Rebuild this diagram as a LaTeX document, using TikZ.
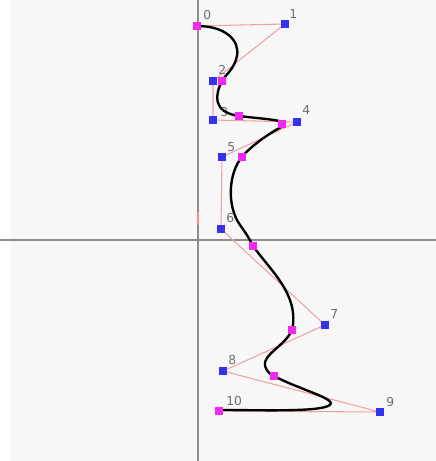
\documentclass[tikz,border=0pt]{standalone}
\usepackage{fontspec}
\setmainfont{DejaVu Sans}
\definecolor{canvas}{RGB}{247,247,247}
\definecolor{axisgray}{RGB}{140,140,140}
\definecolor{hull}{RGB}{240,160,160}
\definecolor{offpt}{RGB}{50,50,240}
\definecolor{onpt}{RGB}{240,40,240}
\definecolor{labelgray}{RGB}{110,110,110}

\tikzset{
  offbox/.style={fill=offpt, minimum size=4.4pt, inner sep=0pt},
  onbox/.style={fill=onpt, minimum size=4.4pt, inner sep=0pt},
  ptlabel/.style={labelgray, anchor=south west, inner sep=0pt, font=\fontsize{7}{8}\selectfont}
}

\begin{document}
\begin{tikzpicture}[x=0.02cm, y=-0.02cm]

  % canvas with white strip on the left
  \useasboundingbox (0,0) rectangle (436,461);
  \fill[canvas] (10,0) rectangle (436,461);

  % axes
  \draw[axisgray, line width=0.6pt] (198,0) -- (198,461);
  \draw[axisgray, line width=0.6pt] (0,240) -- (436,240);
  \draw[red!45, line width=0.6pt] (198,212) -- (198,225);

  % control points
  \coordinate (p0) at (197,26);
  \coordinate (p1) at (285,24);
  \coordinate (p2) at (213,81);
  \coordinate (p3) at (213,120);
  \coordinate (p4) at (297,122);
  \coordinate (p5) at (222,157);
  \coordinate (p6) at (221,229);
  \coordinate (p7) at (325,325);
  \coordinate (p8) at (223,371);
  \coordinate (p9) at (380,412);
  \coordinate (p10) at (219,411);

  % control polygon
  \draw[hull, line width=0.6pt] (p0) -- (p1) -- (p2) -- (p3) -- (p4) -- (p5)
    -- (p6) -- (p7) -- (p8) -- (p9) -- (p10);

  % point numbers
  \node[ptlabel] at (203,20) {0};
  \node[ptlabel] at (289,19) {1};
  \node[ptlabel] at (218,75) {2};
  \node[labelgray!50, ptlabel] at (220,117) {3};
  \node[ptlabel] at (302,115) {4};
  \node[ptlabel] at (227,152) {5};
  \node[ptlabel] at (226,223) {6};
  \node[ptlabel] at (330,319) {7};
  \node[ptlabel] at (228,365) {8};
  \node[ptlabel] at (386,407) {9};
  \node[ptlabel] at (226,406) {10};

  % the outline
  \draw[black, line width=1.35pt]
    (197,26) .. controls (225,26) and (240,40) .. (237,56)
    .. controls (234,70) and (225,75) .. (222,81)
    .. controls (215,95) and (212,112) .. (239,116)
    .. controls (262,119) and (292,120) .. (283,126)
    .. controls (266,135) and (249,148) .. (242,157)
    .. controls (229,172) and (226,205) .. (240,225)
    .. controls (246,233) and (250,240) .. (253,246)
    .. controls (270,270) and (300,295) .. (292,330)
    .. controls (286,345) and (262,355) .. (265,366)
    .. controls (267,372) and (270,374) .. (274,376)
    .. controls (300,390) and (342,400) .. (328,406)
    .. controls (315,412) and (260,410) .. (220,410);

  % off-curve points
  \node[offbox] (q1) at (p1) {};
  \node[offbox] (q2) at (p2) {};
  \node[offbox] (q3) at (p3) {};
  \node[offbox] (q4) at (p4) {};
  \node[offbox] (q5) at (p5) {};
  \node[offbox] (q6) at (p6) {};
  \node[offbox] (q7) at (p7) {};
  \node[offbox] (q8) at (p8) {};
  \node[offbox] (q9) at (p9) {};

  % on-curve points
  \node[onbox] (m0) at (p0) {};
  \node[onbox] (m1) at (222,81) {};
  \node[onbox] (m2) at (239,116) {};
  \node[onbox] (m3) at (282,124) {};
  \node[onbox] (m4) at (242,157) {};
  \node[onbox] (m5) at (253,246) {};
  \node[onbox] (m6) at (292,330) {};
  \node[onbox] (m7) at (274,376) {};
  \node[onbox] (m8) at (p10) {};

\end{tikzpicture}
\end{document}
